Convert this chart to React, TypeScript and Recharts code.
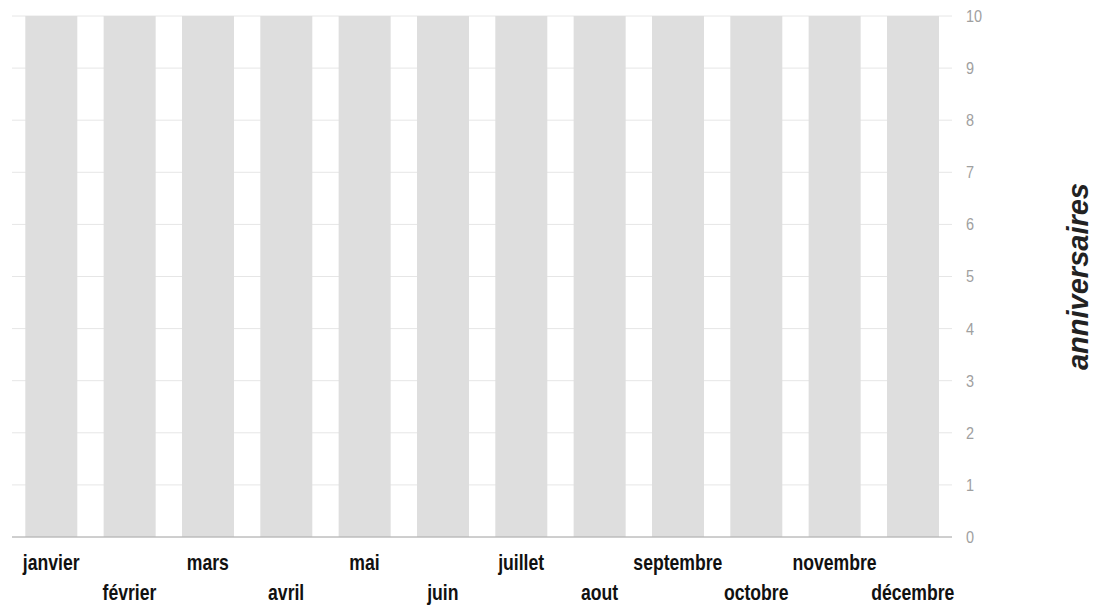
import { BarChart, Bar, XAxis, YAxis, CartesianGrid, Label } from 'recharts';

const months = [
    'janvier', 'février', 'mars', 'avril', 'mai', 'juin',
    'juillet', 'aout', 'septembre', 'octobre', 'novembre', 'décembre',
];
const anniversaires = [10, 10, 10, 10, 10, 10, 10, 10, 10, 10, 10, 10];
const yTicks = [0, 1, 2, 3, 4, 5, 6, 7, 8, 9, 10];

const data = months.map((m, i) => ({ month: m, anniversaires: anniversaires[i] }));

// the reference uses a condensed face; squeeze Liberation Sans horizontally instead
const MonthTick = ({ x, y, payload, index }: any) => (
    <text
        transform={`translate(${x}, ${y + (index % 2 === 0 ? 25 : 55)}) scale(0.8, 1)`}
        textAnchor="middle"
        fontFamily="'Liberation Sans', Arial, sans-serif"
        fontWeight="bold"
        fontSize={22}
        fill="#111"
    >
        {payload.value}
    </text>
);

const ValueTick = ({ x, y, payload }: any) => (
    <text
        transform={`translate(${x}, ${y}) scale(0.85, 1)`}
        textAnchor="start"
        dominantBaseline="central"
        fontFamily="'Liberation Sans', Arial, sans-serif"
        fontSize={17}
        fill="#a0a0a0"
    >
        {payload.value}
    </text>
);

const AxisTitle = ({ viewBox }: any) => {
    const cx = viewBox.x + 126;
    const cy = viewBox.y + viewBox.height / 2;
    return (
        <text
            x={cx}
            y={cy}
            transform={`rotate(-90, ${cx}, ${cy})`}
            textAnchor="middle"
            dominantBaseline="central"
            fontFamily="'Liberation Sans', Arial, sans-serif"
            fontWeight="bold"
            fontStyle="italic"
            fontSize={29}
            fill="#222"
        >
            anniversaires
        </text>
    );
};

export default function App() {
    return (
        <div style={{ position: 'absolute', left: 0, top: 0, background: '#fff' }}>
            <BarChart
                width={1102}
                height={605}
                data={data}
                margin={{ top: 16, right: 0, bottom: 0, left: 12 }}
                barCategoryGap="17%"
            >
                <CartesianGrid vertical={false} stroke="#e6e6e6" />
                <XAxis
                    dataKey="month"
                    height={68}
                    interval={0}
                    tickLine={false}
                    stroke="#aaa"
                    tick={<MonthTick />}
                />
                <YAxis
                    orientation="right"
                    width={150}
                    domain={[0, 10]}
                    ticks={yTicks}
                    axisLine={false}
                    tickLine={false}
                    tickMargin={8}
                    tick={<ValueTick />}
                >
                    <Label content={<AxisTitle />} />
                </YAxis>
                <Bar dataKey="anniversaires" fill="#dedede" isAnimationActive={false} />
            </BarChart>
        </div>
    );
}
